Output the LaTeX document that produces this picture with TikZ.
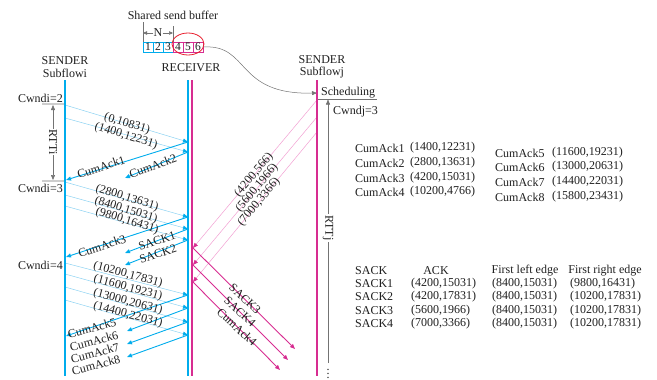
\documentclass[tikz,border=0pt]{standalone}
\usepackage{fontspec}
\setmainfont{Liberation Serif}
\usetikzlibrary{arrows.meta}
\definecolor{cy}{RGB}{0,172,236}
\definecolor{lcy}{RGB}{140,210,242}
\definecolor{mg}{RGB}{215,45,145}
\definecolor{lmg}{RGB}{242,160,210}
\definecolor{gr}{RGB}{115,115,115}
\definecolor{lgr}{RGB}{205,205,205}
\definecolor{rd}{RGB}{232,30,45}
\begin{document}
\begin{tikzpicture}[x=1pt,y=-1pt,
  every node/.style={font=\fontsize{12}{12.5}\selectfont, inner sep=0pt, text=black!88},
  tip/.style={-{Triangle[length=5pt,width=4pt]}},
  lifeC/.style={cy, line width=1.4pt},
  lifeM/.style={mg, line width=1.4pt},
  dataC/.style={lcy, line width=0.5pt, -{Triangle[length=5pt,width=4pt,color=cy]}},
  ackC/.style={cy, line width=0.9pt, tip},
  dataM/.style={lmg, line width=0.5pt, -{Triangle[length=5pt,width=4pt,color=mg]}},
  ackM/.style={mg, line width=0.9pt, tip},
  cellC/.style={draw=cy, line width=0.8pt, minimum width=10pt, minimum height=10pt, font=\fontsize{11.5}{11.5}\selectfont},
  cellM/.style={draw=mg, line width=0.8pt, minimum width=10pt, minimum height=10pt, font=\fontsize{11.5}{11.5}\selectfont},
  grl/.style={gr, line width=0.5pt},
  tick/.style={lgr, line width=1.6pt},
  rtt/.style={fill=white, inner sep=1pt, rotate=-90},
  lw/.style={anchor=west},
]
\useasboundingbox (0,0) rectangle (657,380);

% ---------- shared send buffer ----------
\node (sbuf) at (173,15) {Shared send buffer};
\node[cellC] (b1) at (148,47) {1};
\node[cellC] (b2) at (158,47) {2};
\node[cellC] (b3) at (168,47) {3};
\node[cellM] (b4) at (178,47) {4};
\node[cellM] (b5) at (188,47) {5};
\node[cellM] (b6) at (198,47) {6};
\coordinate (nL1) at (143,22); \coordinate (nL2) at (143,42);
\coordinate (nR1) at (173,26); \coordinate (nR2) at (173,42);
\draw[grl] (nL1) -- (nL2);
\draw[grl] (nR1) -- (nR2);
\node (N) at (158,33) {N};
\coordinate (nA) at (143,33); \coordinate (nB) at (173,33);
\draw[grl, -{Triangle[length=4pt,width=3.5pt]}] (N.west) -- (nA);
\draw[grl, -{Triangle[length=4pt,width=3.5pt]}] (N.east) -- (nB);
\draw[rd, line width=0.8pt] (188,44) ellipse [x radius=16, y radius=11];

% ---------- lifeline headers ----------
\node[align=center] (hsi) at (65,67) {SENDER\\Subflowi};
\node (hr) at (191,68) {RECEIVER};
\node[align=center] (hsj) at (322,67) {SENDER\\Subflowj};

\coordinate (si0) at (65,80);  \coordinate (si1) at (65,376);
\coordinate (rc0) at (188,80); \coordinate (rc1) at (188,376);
\coordinate (rm0) at (192,80); \coordinate (rm1) at (192,376);
\coordinate (sj0) at (317,80); \coordinate (sj1) at (317,376);

% ---------- scheduling ----------
\node[lw] (sched) at (321,93) {Scheduling};
\coordinate (schin) at (317,93);
\draw[gr, line width=0.5pt, -{Triangle[length=5pt,width=4pt]}] (b6.east) .. controls (250,44) and (235,95) .. (schin);
\coordinate (ul0) at (317,99); \coordinate (ul1) at (377,99);
\draw[grl] (ul0) -- (ul1);
\node[lw] (cwj) at (333,112) {Cwndj=3};
\coordinate (rj0) at (328,363); \coordinate (rj1) at (328,99.5);
\draw[grl, -{Triangle[length=5pt,width=4pt]}] (rj0) -- (rj1);
\node[rtt] (rttj) at (328,228) {RTTj};
\node (dots) at (328,371) {$\vdots$};

% ---------- Cwndi and RTTi ----------
\node[anchor=east] (cw2) at (63,98) {Cwndi=2};
\node[anchor=east] (cw3) at (63,188) {Cwndi=3};
\node[anchor=east] (cw4) at (63,265) {Cwndi=4};
\coordinate (t2a) at (42,104); \coordinate (t2b) at (65,104);
\coordinate (t3a) at (42,181); \coordinate (t3b) at (65,181);
\draw[tick] (t2a) -- (t2b);
\draw[tick] (t3a) -- (t3b);
\coordinate (ri0) at (53,105); \coordinate (ri1) at (53,180);
\draw[grl, {Triangle[length=5pt,width=4pt]}-{Triangle[length=5pt,width=4pt]}] (ri0) -- (ri1);
\node[rtt] (rtti) at (53,142) {RTTi};

% ---------- round 1 ----------
\coordinate (d1s) at (65,105);  \coordinate (d1r) at (188,142);
\coordinate (d2s) at (65,118);  \coordinate (d2r) at (188,152);
\draw[dataC] (d1s) -- (d1r);
\draw[dataC] (d2s) -- (d2r);
\coordinate (c1e) at (66,180); \coordinate (c2e) at (125,178);
\draw[ackC] (d1r) -- (c1e);
\draw[ackC] (d2r) -- (c2e);
\node[rotate=-17] (l01) at (127,124) {(0,10831)};
\node[rotate=-17] (l02) at (126,136) {(1400,12231)};
\node[rotate=18] (lca1) at (101,167) {CumAck1};
\node[rotate=20] (lca2) at (153,166) {CumAck2};

% ---------- round 2 ----------
\coordinate (e1s) at (65,182);  \coordinate (e1r) at (188,217);
\coordinate (e2s) at (65,195);  \coordinate (e2r) at (188,229);
\coordinate (e3s) at (65,206);  \coordinate (e3r) at (188,240);
\draw[dataC] (e1s) -- (e1r);
\draw[dataC] (e2s) -- (e2r);
\draw[dataC] (e3s) -- (e3r);
\coordinate (c3e) at (66,257); \coordinate (s1e) at (125,253); \coordinate (s2e) at (125,265);
\draw[ackC] (e1r) -- (c3e);
\draw[ackC] (e2r) -- (s1e);
\draw[ackC] (e3r) -- (s2e);
\node[rotate=-17] (l11) at (127,198) {(2800,13631)};
\node[rotate=-17] (l12) at (126,210) {(8400,15031)};
\node[rotate=-17] (l13) at (127,221) {(9800,16431)};
\node[rotate=18] (lca3) at (102,246) {CumAck3};
\node[rotate=18] (ls1) at (157,241) {SACK1};
\node[rotate=18] (ls2) at (158,254) {SACK2};

% ---------- round 3 ----------
\coordinate (f1s) at (65,263);  \coordinate (f1r) at (188,295);
\coordinate (f2s) at (65,274);  \coordinate (f2r) at (188,308);
\coordinate (f3s) at (65,287);  \coordinate (f3r) at (188,322);
\coordinate (f4s) at (65,300);  \coordinate (f4r) at (188,335);
\draw[dataC] (f1s) -- (f1r);
\draw[dataC] (f2s) -- (f2r);
\draw[dataC] (f3s) -- (f3r);
\draw[dataC] (f4s) -- (f4r);
\coordinate (c5e) at (66,336); \coordinate (c6e) at (127,331);
\coordinate (c7e) at (127,344); \coordinate (c8e) at (127,357);
\draw[ackC] (f1r) -- (c5e);
\draw[ackC] (f2r) -- (c6e);
\draw[ackC] (f3r) -- (c7e);
\draw[ackC] (f4r) -- (c8e);
\node[rotate=-15] (l21) at (128,275) {(10200,17831)};
\node[rotate=-15] (l22) at (128,288) {(11600,19231)};
\node[rotate=-15] (l23) at (128,302) {(13000,20631)};
\node[rotate=-15] (l24) at (128,315) {(14400,22031)};
\node[rotate=15] (lca5) at (92,328) {CumAck5};
\node[rotate=15] (lca6) at (94,341) {CumAck6};
\node[rotate=15] (lca7) at (95,353) {CumAck7};
\node[rotate=15] (lca8) at (96,365) {CumAck8};

% ---------- subflow j ----------
\coordinate (m1s) at (317,100); \coordinate (m1r) at (193,248);
\coordinate (m2s) at (317,117); \coordinate (m2r) at (193,265);
\coordinate (m3s) at (317,132); \coordinate (m3r) at (193,282);
\draw[dataM] (m1s) -- (m1r);
\draw[dataM] (m2s) -- (m2r);
\draw[dataM] (m3s) -- (m3r);
\coordinate (k1e) at (295,349); \coordinate (k2e) at (288,360); \coordinate (k3e) at (280,370);
\draw[ackM] (m1r) -- (k1e);
\draw[ackM] (m2r) -- (k2e);
\draw[ackM] (m3r) -- (k3e);
\node[rotate=50] (lm1) at (254,175) {(4200,566)};
\node[rotate=50] (lm2) at (257,188) {(5600,1966)};
\node[rotate=50] (lm3) at (259,202) {(7000,3366)};
\node[rotate=-43] (ls3) at (245,299) {SACK3};
\node[rotate=-43] (ls4) at (240,312) {SACK4};
\node[rotate=-43] (lca4) at (237,327) {CumAck4};

% ---------- lifelines ----------
\draw[lifeC] (si0) -- (si1);
\draw[lifeC] (rc0) -- (rc1);
\draw[lifeM] (rm0) -- (rm1);
\draw[lifeM] (sj0) -- (sj1);

% ---------- CumAck table ----------
\node[lw] (ta1) at (355,148) {CumAck1};  \node[lw] (tv1) at (410,148) {(1400,12231)};
\node[lw] (ta2) at (355,163) {CumAck2};  \node[lw] (tv2) at (410,163) {(2800,13631)};
\node[lw] (ta3) at (355,178) {CumAck3};  \node[lw] (tv3) at (410,178) {(4200,15031)};
\node[lw] (ta4) at (355,192) {CumAck4};  \node[lw] (tv4) at (410,192) {(10200,4766)};
\node[lw] (ta5) at (495,153) {CumAck5};  \node[lw] (tv5) at (552,153) {(11600,19231)};
\node[lw] (ta6) at (495,167) {CumAck6};  \node[lw] (tv6) at (552,167) {(13000,20631)};
\node[lw] (ta7) at (495,182) {CumAck7};  \node[lw] (tv7) at (552,182) {(14400,22031)};
\node[lw] (ta8) at (495,197) {CumAck8};  \node[lw] (tv8) at (552,197) {(15800,23431)};

% ---------- SACK table ----------
\node[lw] (hs) at (355,271) {SACK};
\node (ha) at (436,271) {ACK};
\node (hl) at (525,271) {First left edge};
\node (hrr) at (605,271) {First right edge};
\node[lw] (sk1) at (355,284) {SACK1}; \node[lw] (sa1) at (411,284) {(4200,15031)};
\node[lw] (sl1) at (492,284) {(8400,15031)}; \node[lw] (sr1) at (570,284) {(9800,16431)};
\node[lw] (sk2) at (355,297) {SACK2}; \node[lw] (sa2) at (411,297) {(4200,17831)};
\node[lw] (sl2) at (492,297) {(8400,15031)}; \node[lw] (sr2) at (570,297) {(10200,17831)};
\node[lw] (sk3) at (355,311) {SACK3}; \node[lw] (sa3) at (411,311) {(5600,1966)};
\node[lw] (sl3) at (492,311) {(8400,15031)}; \node[lw] (sr3) at (570,311) {(10200,17831)};
\node[lw] (sk4) at (355,324) {SACK4}; \node[lw] (sa4) at (411,324) {(7000,3366)};
\node[lw] (sl4) at (492,324) {(8400,15031)}; \node[lw] (sr4) at (570,324) {(10200,17831)};
\end{tikzpicture}
\end{document}
